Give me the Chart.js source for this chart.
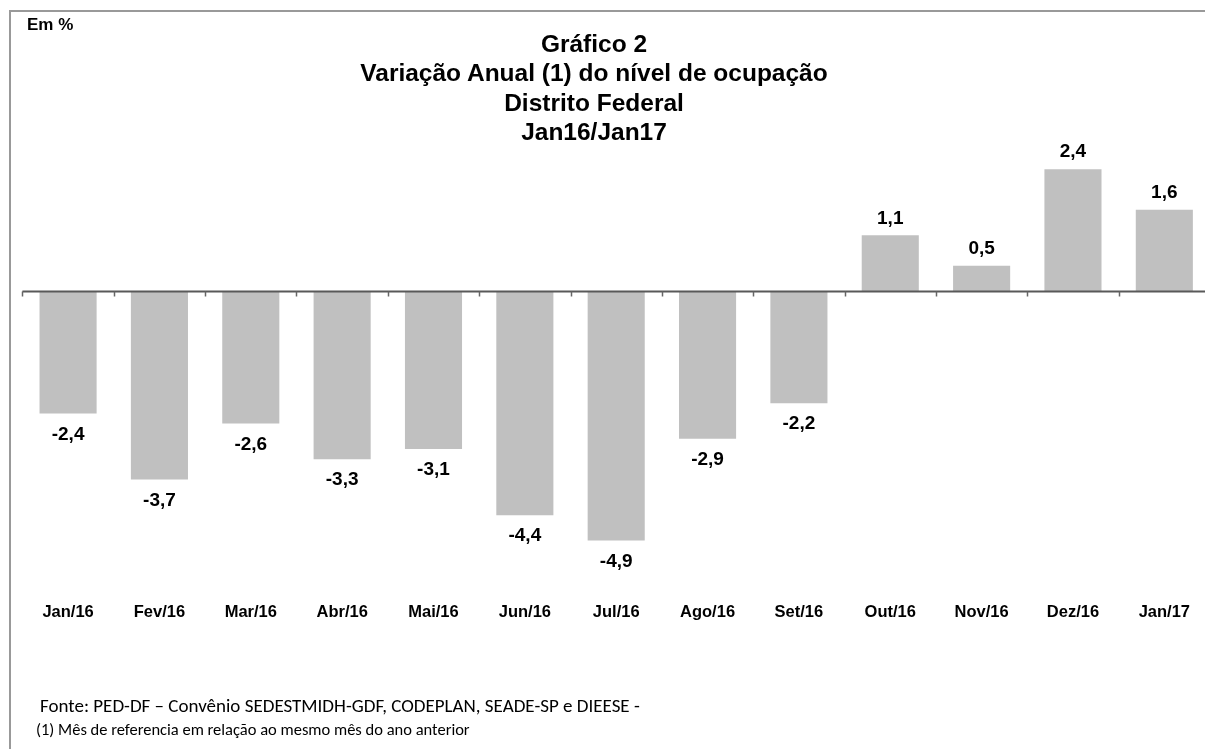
<!DOCTYPE html>
<html>
<head>
<meta charset="utf-8">
<script src="https://cdn.jsdelivr.net/npm/chart.js@4.4.1/dist/chart.umd.min.js"></script>
<style>
  html, body { margin: 0; padding: 0; overflow: hidden; background: #fff; width: 1205px; height: 749px; }
  #wrap { position: absolute; left: 0; top: 0; width: 1210px; height: 749px; }
  #frame { position: absolute; left: 9px; top: 10px; width: 1300px; height: 800px;
           border-left: 2px solid #999; border-top: 2px solid #999; box-sizing: border-box; }
  #title { position: absolute; left: 244px; width: 700px; top: 29px; text-align: center;
           font-family: "Liberation Sans", Arial, sans-serif; font-weight: bold; font-size: 24.5px; line-height: 29.3px; color: #000; }
  #unit { position: absolute; left: 27px; top: 15px; font-family: "Liberation Sans", Arial, sans-serif; font-weight: bold; font-size: 17px; color: #000; }
  .note { position: absolute; font-family: Carlito, Calibri, sans-serif; color: #000; white-space: nowrap; }
</style>
</head>
<body>
<div id="wrap"><canvas id="c" width="1210" height="749"></canvas></div>
<div id="frame"></div>
<div id="unit">Em %</div>
<div id="title">Gráfico 2<br>Variação Anual (1) do nível de ocupação<br>Distrito Federal<br>Jan16/Jan17</div>
<div class="note" style="left:40px; top:694px; font-size:19px;">Fonte: PED-DF – Convênio SEDESTMIDH-GDF, CODEPLAN, SEADE-SP e DIEESE -</div>
<div class="note" style="left:36px; top:719px; font-size:16.5px;">(1) Mês de referencia em relação ao mesmo mês do ano anterior</div>
<script>
const categories = ["Jan/16","Fev/16","Mar/16","Abr/16","Mai/16","Jun/16","Jul/16","Ago/16","Set/16","Out/16","Nov/16","Dez/16","Jan/17"];
const values = [-2.4,-3.7,-2.6,-3.3,-3.1,-4.4,-4.9,-2.9,-2.2,1.1,0.5,2.4,1.6];
const yMin = -6;
const yMax = 3;

const fmt = v => v.toFixed(1).replace('.', ',');

const axisPlugin = {
  id: 'zeroAxis',
  afterDatasetsDraw(chart) {
    const {ctx, chartArea, scales: {x, y}} = chart;
    const y0 = Math.round(y.getPixelForValue(0)) + 0.5;
    const step = x.getPixelForValue(1) - x.getPixelForValue(0);
    ctx.save();
    ctx.strokeStyle = '#595959';
    ctx.lineWidth = 2;
    ctx.beginPath();
    ctx.moveTo(chartArea.left, y0);
    ctx.lineTo(chartArea.right, y0);
    ctx.stroke();
    ctx.lineWidth = 1.5;
    ctx.strokeStyle = '#666';
    for (let i = 0; i <= categories.length; i++) {
      const xp = Math.round(x.getPixelForValue(i) - step / 2) + 0.5;
      ctx.beginPath();
      ctx.moveTo(xp, y0);
      ctx.lineTo(xp, y0 + 5);
      ctx.stroke();
    }
    ctx.fillStyle = '#000';
    ctx.font = 'bold 19px "Liberation Sans", Arial, sans-serif';
    ctx.textAlign = 'center';
    ctx.textBaseline = 'middle';
    const meta = chart.getDatasetMeta(0);
    meta.data.forEach((bar, i) => {
      const v = values[i];
      const ty = v < 0 ? bar.y + 21 : bar.y - 17;
      ctx.fillText(fmt(v), bar.x, ty);
    });
    ctx.restore();
  }
};

new Chart(document.getElementById('c'), {
  type: 'bar',
  data: {
    labels: categories,
    datasets: [{
      data: values,
      backgroundColor: '#C0C0C0',
      borderWidth: 0,
      barPercentage: 0.625,
      categoryPercentage: 1.0
    }]
  },
  options: {
    responsive: false,
    animation: false,
    events: [],
    layout: { padding: { left: 22.4, right: 0, top: 138.6, bottom: 120.6 } },
    plugins: { legend: { display: false }, title: { display: false }, tooltip: { enabled: false } },
    scales: {
      x: {
        grid: { display: false, drawTicks: false },
        border: { display: false },
        ticks: { color: '#000', padding: 6, font: { family: '"Liberation Sans", Arial, sans-serif', size: 16.5, weight: 'bold' }, maxRotation: 0, autoSkip: false }
      },
      y: {
        display: false,
        min: yMin,
        max: yMax
      }
    }
  },
  plugins: [axisPlugin]
});
</script>
</body>
</html>
